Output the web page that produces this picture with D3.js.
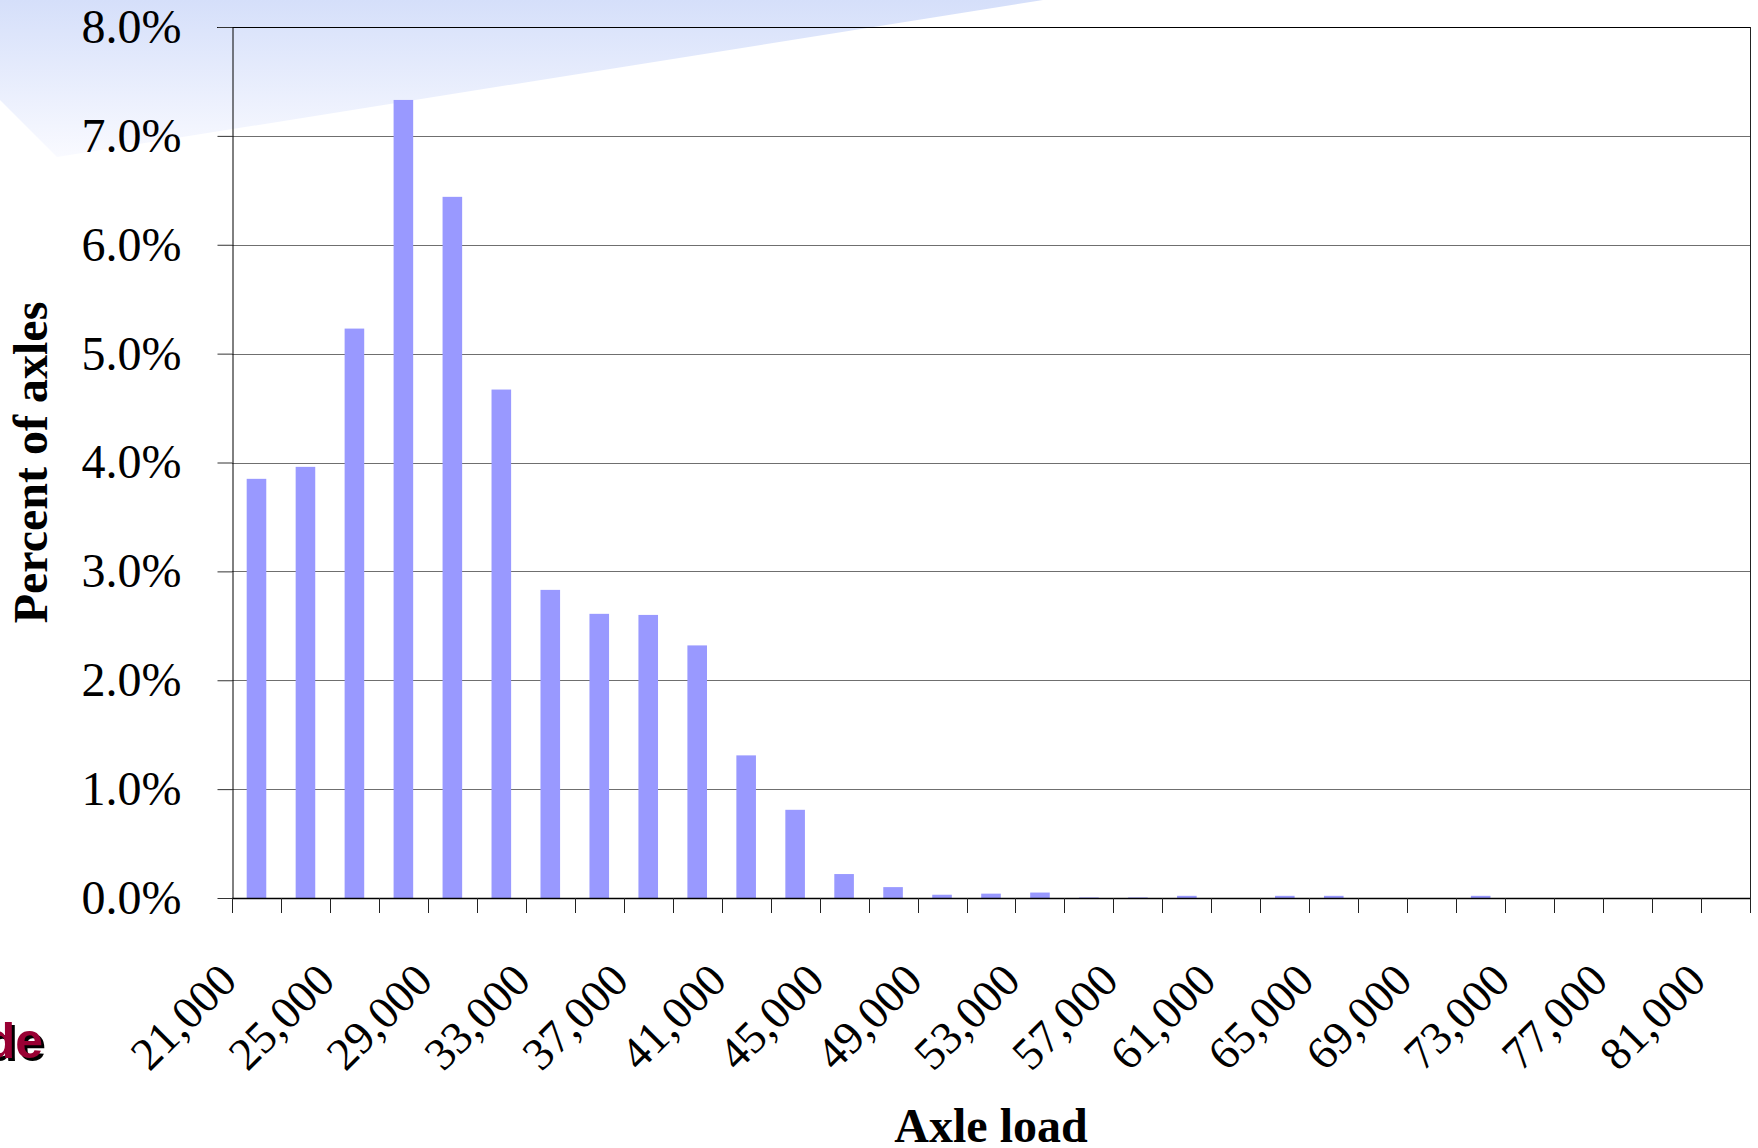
<!DOCTYPE html>
<html>
<head>
<meta charset="utf-8">
<script src="https://cdn.jsdelivr.net/npm/d3@7"></script>
<style>
  html, body { margin: 0; padding: 0; background: #ffffff; overflow: hidden; }
  svg { display: block; }
</style>
</head>
<body>
<svg id="chart" width="1758" height="1148"></svg>
<script>
// Axle load categories (lb), one bar each
const axleLoads = [
  21000, 23000, 25000, 27000, 29000, 31000, 33000, 35000, 37000, 39000,
  41000, 43000, 45000, 47000, 49000, 51000, 53000, 55000, 57000, 59000,
  61000, 63000, 65000, 67000, 69000, 71000, 73000, 75000, 77000, 79000, 81000
];

// Share of all axles falling in each load category (percent)
const percentOfAxles = [
  3.85, 3.96, 5.23, 7.33, 6.44, 4.67, 2.83, 2.61, 2.60, 2.32,
  1.31, 0.81, 0.22, 0.10, 0.03, 0.04, 0.05, 0.005, 0.005, 0.02,
  0, 0.02, 0.02, 0, 0, 0.02, 0, 0, 0, 0, 0
];

// Value axis ticks (fractions) and the category labels that are printed
const yTicks = [0, 0.01, 0.02, 0.03, 0.04, 0.05, 0.06, 0.07, 0.08];
const labelledLoads = [21000, 25000, 29000, 33000, 37000, 41000, 45000, 49000,
                       53000, 57000, 61000, 65000, 69000, 73000, 77000, 81000];

const data = axleLoads.map((load, i) => ({ load, share: percentOfAxles[i] / 100 }));

const svg = d3.select("#chart");
const plot = { left: 232, right: 1750, top: 27, bottom: 898 };
const serif = "'Liberation Serif', 'Times New Roman', Times, serif";

// Slide background wash in the top-left corner
const defs = svg.append("defs");
const grad = defs.append("linearGradient")
  .attr("id", "wash").attr("x1", 0).attr("y1", 0).attr("x2", 0).attr("y2", 1);
grad.append("stop").attr("offset", "0%").attr("stop-color", "#d5dffa");
grad.append("stop").attr("offset", "100%").attr("stop-color", "#f9faff");
svg.append("polygon")
  .attr("points", "0,0 1043,0 57,157 0,100")
  .attr("fill", "url(#wash)");

// Scales
const x = d3.scaleBand()
  .domain(axleLoads)
  .range([plot.left, plot.right])
  .paddingInner(0.6)
  .paddingOuter(0.3);
const xEdge = d3.scaleBand()
  .domain(axleLoads)
  .range([plot.left, plot.right])
  .padding(0);
const y = d3.scaleLinear().domain([0, 0.08]).range([plot.bottom, plot.top]);

// Horizontal gridlines
svg.append("g")
  .selectAll("line")
  .data(yTicks.filter(t => t > 0 && t < 0.08))
  .join("line")
  .attr("x1", plot.left).attr("x2", plot.right)
  .attr("y1", d => Math.round(y(d)) + 0.5).attr("y2", d => Math.round(y(d)) + 0.5)
  .attr("stroke", "#6f6f6f").attr("stroke-width", 1);

// Plot frame: top and right edges
svg.append("line")
  .attr("x1", plot.left - 15).attr("x2", plot.right)
  .attr("y1", Math.round(y(0.08)) + 0.5).attr("y2", Math.round(y(0.08)) + 0.5)
  .attr("stroke", "#000").attr("stroke-width", 1);
svg.append("line")
  .attr("x1", plot.right + 0.5).attr("x2", plot.right + 0.5)
  .attr("y1", plot.top).attr("y2", plot.bottom)
  .attr("stroke", "#222").attr("stroke-width", 1);

// Bars
svg.append("g")
  .selectAll("rect")
  .data(data)
  .join("rect")
  .attr("x", d => x(d.load))
  .attr("y", d => y(d.share))
  .attr("width", x.bandwidth())
  .attr("height", d => plot.bottom - y(d.share))
  .attr("fill", "#9999ff");

// Value axis
const yAxis = svg.append("g")
  .attr("transform", `translate(${plot.left + 0.5},0)`)
  .call(d3.axisLeft(y)
    .tickValues(yTicks)
    .tickFormat(d3.format(".1%"))
    .tickSize(15)
    .tickSizeOuter(0)
    .tickPadding(36));
yAxis.select(".domain").attr("stroke", "#000");
yAxis.selectAll(".tick line").attr("stroke", "#333");
yAxis.selectAll(".tick text")
  .attr("font-family", serif)
  .attr("font-size", 48)
  .attr("fill", "#000");

// Category axis: baseline and boundary ticks
svg.append("line")
  .attr("x1", plot.left).attr("x2", plot.right)
  .attr("y1", plot.bottom + 0.5).attr("y2", plot.bottom + 0.5)
  .attr("stroke", "#000").attr("stroke-width", 1.5);
const edges = axleLoads.map(d => xEdge(d)).concat([plot.right]);
svg.append("g")
  .selectAll("line")
  .data(edges)
  .join("line")
  .attr("x1", d => Math.round(d) + 0.5).attr("x2", d => Math.round(d) + 0.5)
  .attr("y1", plot.bottom).attr("y2", plot.bottom + 15)
  .attr("stroke", "#222").attr("stroke-width", 1);

// Category labels, rotated
const xAxis = svg.append("g")
  .attr("transform", `translate(0,${plot.bottom})`)
  .call(d3.axisBottom(x)
    .tickValues(labelledLoads)
    .tickFormat(d3.format(","))
    .tickSize(0)
    .tickSizeOuter(0));
xAxis.select(".domain").remove();
xAxis.selectAll(".tick line").remove();
xAxis.selectAll(".tick text")
  .attr("x", 0).attr("y", 0).attr("dy", null)
  .attr("text-anchor", "end")
  .attr("transform", "translate(-17.5,85) rotate(-45)")
  .attr("font-family", serif)
  .attr("font-size", 46)
  .attr("fill", "#000");

// Axis titles
svg.append("text")
  .attr("transform", `translate(47,${(plot.top + plot.bottom) / 2}) rotate(-90)`)
  .attr("text-anchor", "middle")
  .attr("font-family", serif)
  .attr("font-weight", "bold")
  .attr("font-size", 48)
  .text("Percent of axles");
svg.append("text")
  .attr("x", (plot.left + plot.right) / 2)
  .attr("y", 1142)
  .attr("text-anchor", "middle")
  .attr("font-family", serif)
  .attr("font-weight", "bold")
  .attr("font-size", 48)
  .text("Axle load");

// Slide caption fragment at the left edge, with drop shadow
const sans = "'Liberation Sans', Arial, sans-serif";
svg.append("text")
  .attr("x", 46).attr("y", 1061)
  .attr("text-anchor", "end")
  .attr("font-family", sans).attr("font-weight", "bold").attr("font-size", 50)
  .attr("fill", "#000")
  .text("de");
svg.append("text")
  .attr("x", 43).attr("y", 1058)
  .attr("text-anchor", "end")
  .attr("font-family", sans).attr("font-weight", "bold").attr("font-size", 50)
  .attr("fill", "#990033")
  .text("de");
</script>
</body>
</html>
